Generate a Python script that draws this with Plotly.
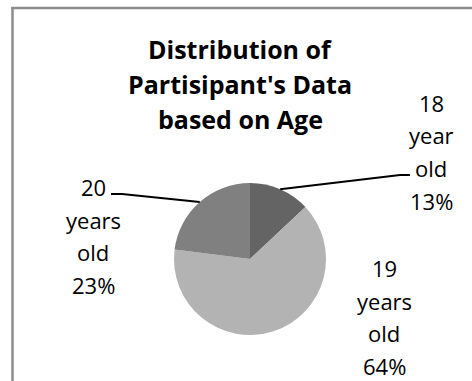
import math
import plotly.graph_objects as go

# ---- data ----
categories = ["18 year old", "19 years old", "20 years old"]
values = [13, 64, 23]
colors = ["#646464", "#b3b3b3", "#808080"]
title_lines = ["Distribution of", "Partisipant's Data", "based on Age"]

# ---- layout (pixels) ----
W, H = 472, 381
CX, CY, R = 250, 259, 76
FONT = "Open Sans"

def px(x):
    return x / W

def py(y):
    return 1 - y / H

fig = go.Figure(go.Pie(
    labels=categories, values=values, sort=False, direction="clockwise", rotation=0,
    marker=dict(colors=colors, line=dict(width=0)), textinfo="none", hoverinfo="label+percent",
    domain=dict(x=[px(CX - R), px(CX + R)], y=[py(CY + R), py(CY - R)]),
    showlegend=False,
))

annotations = []
# title
title_first_center = 49
title_step = 35
for i, line in enumerate(title_lines):
    annotations.append(dict(text="<b>%s</b>" % line, x=px(240), y=py(title_first_center + i * title_step),
                            xref="paper", yref="paper", showarrow=False, xanchor="center", yanchor="middle",
                            font=dict(family=FONT, size=25, color="#000")))

# data labels
label_pos = {  # center x, first line center y
    0: (431, 103),
    1: (384, 268),
    2: (93, 187),
}
line_step = 32.5
total = sum(values)
for i, (cat, v) in enumerate(zip(categories, values)):
    lines = cat.split(" ") + ["%d%%" % round(v / total * 100)]
    lx, ly = label_pos[i]
    for j, t in enumerate(lines):
        annotations.append(dict(text=t, x=px(lx), y=py(ly + j * line_step), xref="paper", yref="paper",
                                showarrow=False, xanchor="center", yanchor="middle",
                                font=dict(family=FONT, size=22, color="#000")))

# leader lines: pie-side endpoint from slice mid-angle
leader_ends = {  # label-side elbow and end
    0: [(400, 175), (410, 175)],
    2: [(122, 194), (111, 194)],
}
shapes = []
cum = 0
for i, v in enumerate(values):
    mid = (cum + v / 2) / total * 2 * math.pi
    cum += v
    if i not in leader_ends:
        continue
    sx = CX + R * math.sin(mid)
    sy = CY - R * math.cos(mid)
    pts = [(sx, sy)] + leader_ends[i]
    path = "M " + " L ".join("%f,%f" % (px(a), py(b)) for a, b in pts)
    shapes.append(dict(type="path", path=path, xref="paper", yref="paper",
                       line=dict(color="#000", width=2)))

# chart border (left and top)
shapes.append(dict(type="line", xref="paper", yref="paper", x0=px(12.5), x1=px(12.5), y0=py(7), y1=py(H + 5),
                   line=dict(color="#8c8c8c", width=2.5)))
shapes.append(dict(type="line", xref="paper", yref="paper", x0=px(11.3), x1=px(W + 5), y0=py(8), y1=py(8),
                   line=dict(color="#8c8c8c", width=2.5)))

fig.update_layout(width=W, height=H, margin=dict(l=0, r=0, t=0, b=0), paper_bgcolor="white",
                  plot_bgcolor="white", annotations=annotations, shapes=shapes)
fig.write_html("out.html", config=dict(displayModeBar=False))
